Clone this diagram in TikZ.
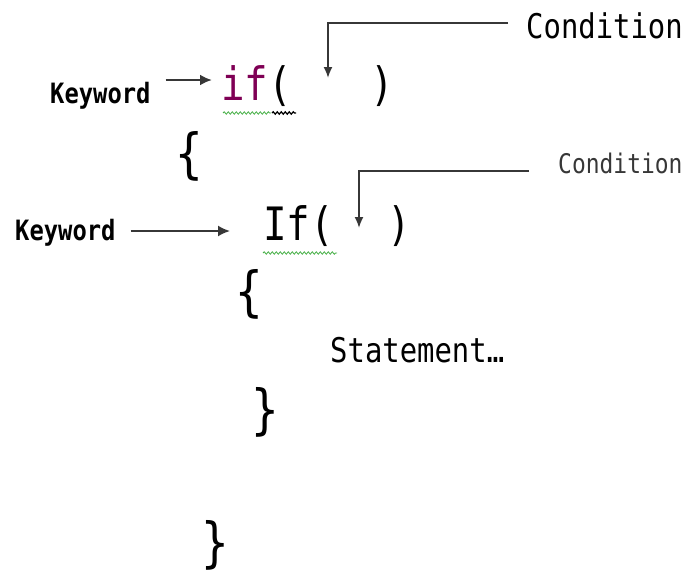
\documentclass[tikz,border=0pt]{standalone}
\usepackage{fontspec}
\usepackage{xcolor}
\usepackage{tikz}
\usetikzlibrary{arrows.meta,positioning,decorations.pathmorphing}
\newfontfamily\codefont[FakeStretch=0.85]{DejaVu Sans Mono}
\definecolor{kw}{RGB}{127, 0, 85}
\definecolor{ln}{RGB}{55, 55, 55}
\definecolor{squig}{RGB}{70, 175, 70}
\tikzstyle{code} = [font=\codefont\fontsize{46}{46}\selectfont, inner sep=0pt, anchor=base west]
\tikzstyle{brace} = [code, font=\codefont\fontsize{54}{54}\selectfont]
\tikzstyle{kwlabel} = [font=\codefont\bfseries\fontsize{28}{28}\selectfont, inner sep=0pt, anchor=base west]
\tikzstyle{condlabel} = [font=\codefont\fontsize{34}{34}\selectfont, inner sep=0pt, anchor=base west]
\tikzstyle{line} = [draw, ln, line width=1.8pt, -{Latex[length=11pt, width=9pt]}]
\tikzstyle{squiggle} = [draw, squig, line width=0.8pt, decorate, decoration={snake, amplitude=1.2pt, segment length=4pt}]

\begin{document}
\begin{tikzpicture}[x=1pt, y=1pt]
    \useasboundingbox (0,0) rectangle (696,-573);

    % outer if
    \node [kwlabel] (kw1) at (50,-103) {Keyword};
    \node [code] (if1) at (221,-100) {\textcolor{kw}{if}(};
    \node [code] (rp1) at (370,-100) {)};
    \node [condlabel] (cond1) at (526,-38) {Condition};
    \node [brace] (lb1) at (175,-172) {\{};

    % inner if
    \node [kwlabel] (kw2) at (15,-240) {Keyword};
    \node [code] (if2) at (263,-240) {If(};
    \node [code] (rp2) at (387,-240) {)};
    \node [condlabel, font=\codefont\fontsize{27}{27}\selectfont, text=ln] (cond2) at (558,-173) {Condition};
    \node [brace] (lb2) at (235,-310) {\{};
    \node [condlabel] (stmt) at (330,-362) {Statement…};
    \node [brace] (rb2) at (251,-428) {\}};
    \node [brace] (rb1) at (201,-561) {\}};

    % arrows
    \path [line, line width=2.8pt, -{Latex[length=12pt, width=11pt]}] ([xshift=15pt, yshift=23pt]kw1.base east) -- ([xshift=-9pt, yshift=20pt]if1.base west);
    \path [line, -{Latex[length=12pt, width=11pt]}] ([xshift=15pt, yshift=9pt]kw2.base east) -- ([xshift=-33pt, yshift=9pt]if2.base west);
    \path [line] ([xshift=-18pt, yshift=15pt]cond1.base west) -| ([xshift=107pt, yshift=22pt]if1.base west);
    \path [line] ([xshift=-29pt, yshift=2pt]cond2.base west) -| ([xshift=96pt, yshift=12pt]if2.base west);

    % spell-check marks
    \path [squiggle] ([xshift=2pt, yshift=-13pt]if1.base west) -- ++(48pt,0);
    \path [squiggle, black, line width=1.2pt] ([xshift=51pt, yshift=-13pt]if1.base west) -- ++(24pt,0);
    \path [squiggle] ([xshift=0pt, yshift=-13pt]if2.base west) -- ++(74pt,0);
\end{tikzpicture}
\end{document}
